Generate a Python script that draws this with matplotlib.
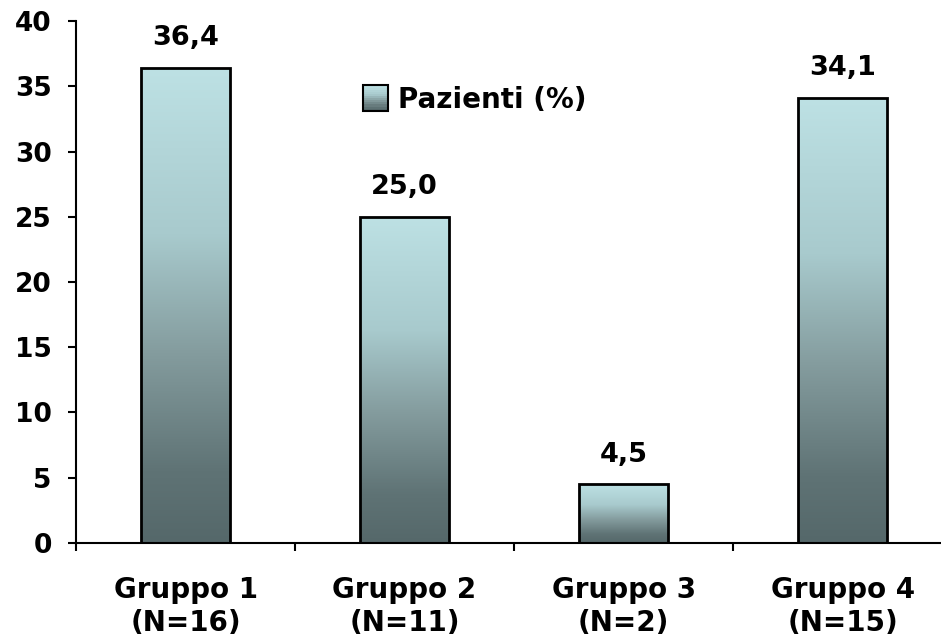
import matplotlib
matplotlib.use("Agg")
import matplotlib.pyplot as plt
import numpy as np
from matplotlib.colors import LinearSegmentedColormap
from matplotlib.legend_handler import HandlerBase
from matplotlib.patches import Rectangle, Patch

plt.rcParams["font.family"] = ["DejaVu Sans"]
plt.rcParams["font.weight"] = "bold"

groups = ["Gruppo 1\n(N=16)", "Gruppo 2\n(N=11)", "Gruppo 3\n(N=2)", "Gruppo 4\n(N=15)"]
pazienti = [36.4, 25.0, 4.5, 34.1]
series_name = "Pazienti (%)"

# gradient: light cyan on top, dark slate at the bottom
grad = LinearSegmentedColormap.from_list(
    "bar_grad", [(0.0, "#55686a"), (0.15, "#5f7375"), (0.4, "#849c9e"),
                 (0.65, "#a8cacd"), (1.0, "#bde1e4")])


class GradientHandler(HandlerBase):
    def create_artists(self, legend, orig_handle, xdescent, ydescent,
                       width, height, fontsize, trans):
        side = height * 1.3
        x0 = -xdescent + (width - side) / 2
        y0 = -ydescent + (height - side) / 2
        n = 12
        arts = []
        for i in range(n):
            r = Rectangle((x0, y0 + side * i / n), side, side / n + 0.01,
                          facecolor=grad((i + 0.5) / n), edgecolor="none", transform=trans)
            arts.append(r)
        arts.append(Rectangle((x0, y0), side, side, facecolor="none",
                              edgecolor="black", lw=1.5, transform=trans))
        return arts


fig = plt.figure(figsize=(9.41, 6.41), dpi=100)
ax = fig.add_axes([0.0808, 0.1529, 0.931, 0.8143])

x = np.arange(len(groups))
bars = ax.bar(x, pazienti, width=0.405, facecolor="none", edgecolor="black",
              linewidth=2, zorder=3)
gimg = np.linspace(0, 1, 256).reshape(-1, 1)
for b in bars:
    bx, by = b.get_x(), b.get_y()
    im = ax.imshow(gimg, cmap=grad, origin="lower", aspect="auto",
                   extent=[bx, bx + b.get_width(), by, by + b.get_height()], zorder=2)
    im.set_clip_path(b)

for xi, v in zip(x, pazienti):
    ax.annotate(f"{v:.1f}".replace(".", ","), (xi, v), xytext=(0, 12),
                textcoords="offset points", ha="center", va="bottom",
                fontsize=19.5, fontweight="bold")

ax.set_xlim(-0.5, len(groups) - 0.5)
ax.set_ylim(0, 40)
ax.set_yticks(range(0, 41, 5))
ax.set_xticks(x)
ax.set_xticklabels(groups, fontsize=20, fontweight="bold", linespacing=1.2)
ax.set_xticks(np.arange(-0.5, len(groups)), minor=True)
ax.tick_params(axis="x", which="major", length=0, pad=24)
ax.tick_params(axis="x", which="minor", length=6, width=1.5, direction="out")
ax.tick_params(axis="y", length=5.5, width=1.5, direction="out", pad=12, labelsize=19)
for lab in ax.get_yticklabels():
    lab.set_fontweight("bold")

for s in ["top", "right"]:
    ax.spines[s].set_visible(False)
for s in ["left", "bottom"]:
    ax.spines[s].set_linewidth(1.5)

ax.legend(handles=[Patch(label=series_name)], handler_map={Patch: GradientHandler()},
          loc="center left", bbox_to_anchor=(0.31, 0.849), frameon=False,
          prop={"size": 20, "weight": "bold"}, handlelength=1.0, handletextpad=0.3,
          borderpad=0)

fig.savefig("out.png", dpi=100)
